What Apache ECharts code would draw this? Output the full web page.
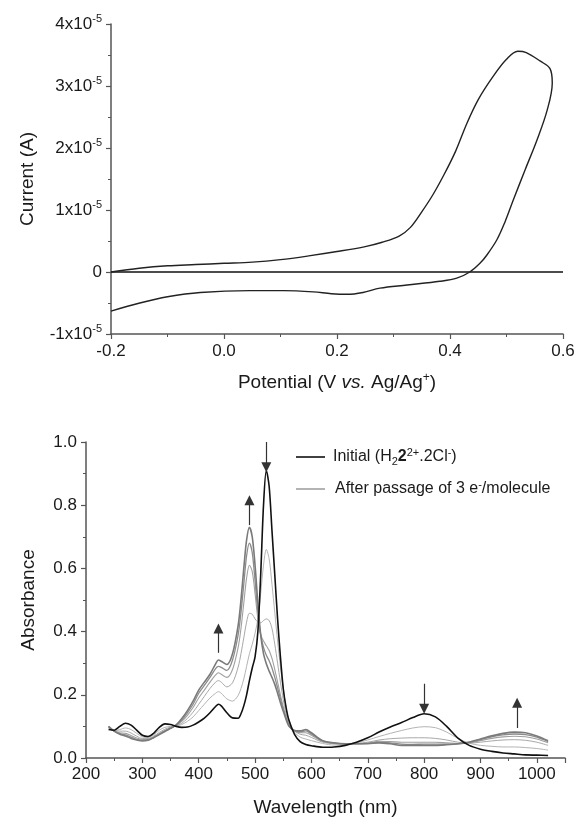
<!DOCTYPE html>
<html>
<head>
<meta charset="utf-8">
<script src="https://cdn.jsdelivr.net/npm/echarts@6/dist/echarts.min.js"></script>
<style>html,body{margin:0;padding:0;background:#fff}#c{width:579px;height:821px}</style>
</head>
<body>
<div id="c"></div>
<script>
// ---------- Cyclic voltammogram (current in units of 1e-5 A) ----------
const cvPotential = [-0.2,-0.15,-0.1,-0.05,0.0,0.05,0.1,0.15,0.2,0.25,0.28,0.31,0.33,0.35,0.37,0.39,0.41,0.43,0.45,0.476,0.5,0.52,0.535,0.56,0.577,0.581,0.572,0.554,0.533,0.512,0.497,0.483,0.465,0.453,0.435,0.412,0.382,0.324,0.276,0.246,0.218,0.19,0.158,0.105,0.046,-0.042,-0.1,-0.149,-0.2];
const cvCurrentE5 = [0.0,0.06,0.1,0.12,0.14,0.16,0.2,0.26,0.33,0.41,0.48,0.58,0.72,0.97,1.25,1.58,1.95,2.4,2.78,3.15,3.43,3.56,3.54,3.4,3.28,3.05,2.61,2.13,1.65,1.16,0.8,0.52,0.27,0.14,0.0,-0.1,-0.15,-0.21,-0.26,-0.33,-0.36,-0.35,-0.32,-0.3,-0.3,-0.33,-0.4,-0.5,-0.63];
const cvXTicks = [-0.2, 0.6, 0.2];   // min, max, interval
const cvYTicks = [-1, 4, 1];         // in 1e-5 A

// ---------- UV-Vis spectra ----------
const wavelength = [240,250,260,270,280,290,300,310,320,330,340,350,360,370,380,390,400,410,420,430,
  435,440,450,460,470,
  475,480,485,490,495,500,505,510,515,520,525,530,535,540,545,550,555,
  560,570,580,590,600,
  620,640,660,680,700,720,740,760,780,800,820,840,860,880,900,920,940,960,980,1000,1020];
const absInitial = [0.090,0.088,0.100,0.110,0.104,0.088,0.072,0.068,0.078,0.097,0.108,0.106,0.100,0.097,0.098,0.104,0.114,0.126,0.143,0.163,
  0.170,0.165,0.143,0.127,0.126,
  0.140,0.165,0.200,0.245,0.285,0.320,0.400,0.580,0.800,0.910,0.860,0.720,0.580,0.440,0.320,0.220,0.160,
  0.120,0.075,0.052,0.043,0.039,
  0.034,0.035,0.040,0.050,0.064,0.082,0.098,0.112,0.128,0.140,0.130,0.100,0.063,0.040,0.028,0.021,0.016,0.013,0.010,0.009,0.008];
const absStep1 = [0.095,0.086,0.090,0.095,0.090,0.078,0.067,0.065,0.073,0.088,0.097,0.100,0.101,0.106,0.116,0.130,0.150,0.170,0.190,0.205,
  0.210,0.205,0.187,0.180,0.198,
  0.220,0.250,0.290,0.330,0.360,0.395,0.440,0.520,0.610,0.660,0.630,0.550,0.460,0.370,0.290,0.220,0.160,
  0.118,0.082,0.066,0.060,0.055,
  0.046,0.041,0.043,0.048,0.057,0.068,0.078,0.087,0.095,0.099,0.096,0.082,0.062,0.047,0.040,0.037,0.035,0.035,0.033,0.030,0.025];
const absStep2 = [0.096,0.086,0.085,0.085,0.079,0.069,0.062,0.062,0.069,0.081,0.091,0.098,0.102,0.110,0.125,0.145,0.170,0.195,0.220,0.240,
  0.245,0.240,0.225,0.238,0.288,
  0.330,0.380,0.430,0.458,0.455,0.440,0.430,0.428,0.435,0.440,0.435,0.410,0.360,0.300,0.240,0.185,0.140,
  0.110,0.086,0.075,0.072,0.065,
  0.050,0.045,0.044,0.046,0.050,0.057,0.061,0.063,0.064,0.064,0.062,0.057,0.050,0.047,0.050,0.054,0.057,0.058,0.056,0.050,0.040];
const absStep3 = [0.098,0.085,0.080,0.078,0.071,0.063,0.059,0.059,0.066,0.077,0.087,0.095,0.103,0.116,0.135,0.160,0.190,0.215,0.240,0.263,
  0.270,0.265,0.255,0.280,0.350,
  0.410,0.490,0.570,0.610,0.590,0.520,0.440,0.390,0.370,0.355,0.340,0.315,0.280,0.240,0.200,0.162,0.130,
  0.104,0.086,0.080,0.080,0.072,
  0.052,0.046,0.045,0.045,0.047,0.053,0.052,0.050,0.050,0.050,0.050,0.048,0.046,0.048,0.055,0.062,0.067,0.069,0.067,0.060,0.048];
const absStep4 = [0.100,0.085,0.077,0.073,0.066,0.059,0.056,0.057,0.065,0.075,0.085,0.094,0.104,0.120,0.143,0.170,0.205,0.230,0.255,0.283,
  0.290,0.287,0.277,0.310,0.390,
  0.460,0.550,0.640,0.680,0.650,0.560,0.460,0.390,0.350,0.325,0.308,0.285,0.255,0.222,0.188,0.155,0.126,
  0.102,0.086,0.083,0.086,0.076,
  0.054,0.047,0.045,0.045,0.046,0.050,0.048,0.044,0.043,0.044,0.044,0.044,0.045,0.050,0.058,0.067,0.073,0.076,0.074,0.066,0.052];
const absFinal = [0.100,0.085,0.075,0.070,0.062,0.057,0.054,0.056,0.064,0.074,0.084,0.094,0.105,0.125,0.150,0.180,0.215,0.240,0.265,0.298,
  0.310,0.306,0.296,0.330,0.420,
  0.500,0.600,0.690,0.730,0.700,0.610,0.490,0.390,0.330,0.298,0.275,0.255,0.233,0.205,0.175,0.148,0.122,
  0.101,0.087,0.086,0.090,0.080,
  0.055,0.048,0.045,0.045,0.045,0.048,0.045,0.040,0.040,0.040,0.040,0.042,0.045,0.050,0.060,0.070,0.078,0.082,0.080,0.070,0.055];
const uvXTicks = [200, 1050, 100];
const uvYTicks = [0, 1.0, 0.2];
// arrows: wavelength, start absorbance, end absorbance
const arrowWl = [435, 490, 520, 800, 965];
const arrowFrom = [0.333, 0.737, 1.0, 0.235, 0.095];
const arrowTo = [0.41, 0.816, 0.92, 0.156, 0.175];

const legendInitialText = '{t|Initial (H}{sub|2}{b|2}{sup|2+}{t|.2Cl}{sup|-}{t|)}';
const legendAfterText = '{t|After passage of 3 e}{sup|-}{t|/molecule}';

const FONT = 'Liberation Sans, Arial, sans-serif';
const AX = '#555';
const TX = '#1a1a1a';

function pairs(xs, ys) { return xs.map((x, i) => [x, ys[i]]); }

const chart = echarts.init(document.getElementById('c'), null, {renderer: 'canvas'});

const axisCommon = {
  axisLine: {show: true, onZero: false, lineStyle: {color: AX, width: 1.5}},
  axisTick: {show: true, length: 5, lineStyle: {color: AX, width: 1.2}},
  minorTick: {show: true, splitNumber: 2, length: 3, lineStyle: {color: AX, width: 1}},
  splitLine: {show: false},
};

const spectra = [
  {name: 's1', data: absStep1, color: '#b4b4b4', w: 1},
  {name: 's2', data: absStep2, color: '#a8a8a8', w: 1},
  {name: 's3', data: absStep3, color: '#a0a0a0', w: 1.1},
  {name: 's4', data: absStep4, color: '#8c8c8c', w: 1.3},
  {name: 's5', data: absFinal, color: '#7a7a7a', w: 1.6},
];

const arrowLines = arrowWl.map((w, i) => [{coord: [w, arrowFrom[i]]}, {coord: [w, arrowTo[i]]}]);

const richLegend = {
  t: {fontSize: 16, fill: TX, fontFamily: FONT},
  b: {fontSize: 16, fill: TX, fontWeight: 'bold', fontFamily: FONT},
  sub: {fontSize: 11, fill: TX, fontFamily: FONT, padding: [9, 0, 0, 0]},
  sup: {fontSize: 11, fill: TX, fontFamily: FONT, padding: [0, 0, 9, 0]}
};

const option = {
  animation: false,
  backgroundColor: '#fff',
  textStyle: {fontFamily: FONT},
  grid: [
    {left: 111, top: 24, width: 452, height: 310},
    {left: 86, top: 442, width: 479, height: 316}
  ],
  xAxis: [
    Object.assign({}, axisCommon, {
      gridIndex: 0, type: 'value', min: cvXTicks[0], max: cvXTicks[1], interval: cvXTicks[2],
      axisLabel: {color: TX, fontSize: 17, margin: 9, formatter: v => v.toFixed(1)},
      name: 'Potential (V {i|vs.} Ag/Ag{s|+})', nameLocation: 'middle', nameGap: 38,
      nameTextStyle: {color: TX, fontSize: 19, rich: {
        i: {fontSize: 19, fontStyle: 'italic', color: TX},
        s: {fontSize: 12, color: TX, padding: [0, 0, 10, 0]}
      }}
    }),
    Object.assign({}, axisCommon, {
      gridIndex: 1, type: 'value', min: uvXTicks[0], max: uvXTicks[1], interval: uvXTicks[2],
      axisLabel: {color: TX, fontSize: 17, margin: 8, showMaxLabel: false,
        formatter: v => (v % 100 === 0 ? String(v) : '')},
      name: 'Wavelength (nm)', nameLocation: 'middle', nameGap: 40,
      nameTextStyle: {color: TX, fontSize: 19}
    })
  ],
  yAxis: [
    Object.assign({}, axisCommon, {
      gridIndex: 0, type: 'value', min: cvYTicks[0], max: cvYTicks[1], interval: cvYTicks[2],
      axisLabel: {color: TX, fontSize: 17, margin: 9,
        formatter: v => (Math.abs(v) < 1e-9 ? '{a|0}' : '{a|' + Math.round(v) + 'x10}{s|-5}'),
        rich: {a: {fontSize: 17, color: TX}, s: {fontSize: 11, color: TX, padding: [0, 0, 10, 0]}}
      },
      name: 'Current (A)', nameLocation: 'middle', nameGap: 74,
      nameTextStyle: {color: TX, fontSize: 19}
    }),
    Object.assign({}, axisCommon, {
      gridIndex: 1, type: 'value', min: uvYTicks[0], max: uvYTicks[1], interval: uvYTicks[2],
      axisLabel: {color: TX, fontSize: 17, margin: 9, formatter: v => v.toFixed(1)},
      name: 'Absorbance', nameLocation: 'middle', nameGap: 48,
      nameTextStyle: {color: TX, fontSize: 19}
    })
  ],
  graphic: [
    {type: 'line', silent: true, shape: {x1: 296, y1: 457, x2: 325, y2: 457}, style: {stroke: '#111', lineWidth: 1.6}},
    {type: 'text', silent: true, x: 333, y: 457, style: {text: legendInitialText, verticalAlign: 'middle', align: 'left', fill: TX, font: '16px ' + FONT, rich: richLegend}},
    {type: 'line', silent: true, shape: {x1: 296, y1: 489, x2: 325, y2: 489}, style: {stroke: '#a0a0a0', lineWidth: 1.6}},
    {type: 'text', silent: true, x: 335, y: 489, style: {text: legendAfterText, verticalAlign: 'middle', align: 'left', fill: TX, font: '16px ' + FONT, rich: richLegend}}
  ],
  series: [
    {
      type: 'line', xAxisIndex: 0, yAxisIndex: 0, name: 'zero',
      data: pairs([cvXTicks[0], cvXTicks[1]], [0, 0]),
      symbol: 'none', lineStyle: {color: '#111', width: 1.3}, silent: true
    },
    {
      type: 'line', xAxisIndex: 0, yAxisIndex: 0, name: 'cv',
      data: pairs(cvPotential, cvCurrentE5),
      symbol: 'none', smooth: 0.35, lineStyle: {color: '#222', width: 1.4}, silent: true
    },
    ...spectra.map(s => ({
      type: 'line', xAxisIndex: 1, yAxisIndex: 1, name: s.name,
      data: pairs(wavelength, s.data),
      symbol: 'none', smooth: 0.3,
      itemStyle: {color: s.color},
      lineStyle: {color: s.color, width: s.w}, silent: true
    })),
    {
      type: 'line', xAxisIndex: 1, yAxisIndex: 1, name: 'initial',
      data: pairs(wavelength, absInitial),
      symbol: 'none', smooth: 0.3,
      itemStyle: {color: '#111'},
      lineStyle: {color: '#111', width: 1.6}, silent: true,
      markLine: {
        silent: true, symbol: ['none', 'triangle'], symbolSize: 10,
        label: {show: false},
        lineStyle: {color: '#333', width: 1.2, type: 'solid'},
        data: arrowLines
      }
    }
  ]
};
chart.setOption(option);
</script>
</body>
</html>
